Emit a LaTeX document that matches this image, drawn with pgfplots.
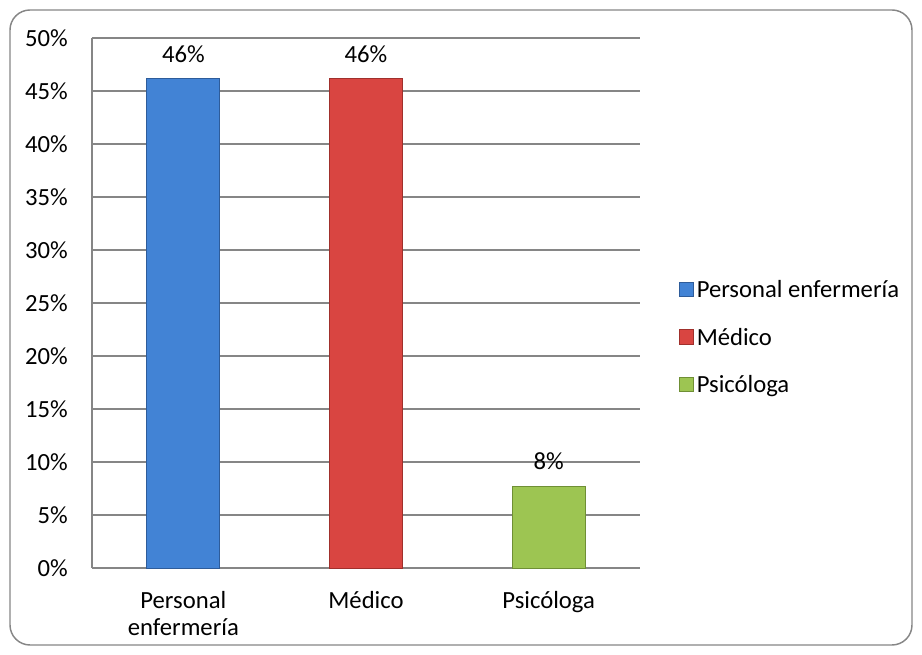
\documentclass[border=0pt]{standalone}
\usepackage{pgfplots}
\pgfplotsset{compat=1.18}
\usepackage{fontspec}
\setmainfont{Carlito}
\definecolor{gridgray}{HTML}{868686}
\definecolor{cblue}{HTML}{4283D5}
\definecolor{cblueD}{HTML}{2E5C9A}
\definecolor{cred}{HTML}{D94541}
\definecolor{credD}{HTML}{A0302C}
\definecolor{cgreen}{HTML}{9DC552}
\definecolor{cgreenD}{HTML}{6F8F35}
\newcommand{\cf}{\fontsize{18.5}{20}\selectfont}
\begin{document}
\cf
\begin{tikzpicture}
\useasboundingbox (-69pt,-65.25pt) rectangle (622.5pt,426pt);
\draw[gridgray, line width=1.1pt, rounded corners=15pt] (-61.5pt,-57.75pt) rectangle (615pt,418.5pt);
\begin{axis}[
  scale only axis,
  width=411pt, height=397.5pt,
  xmin=-0.5, xmax=2.5,
  ymin=0, ymax=50,
  ytick={0,5,...,50},
  yticklabel={\pgfmathprintnumber{\tick}\%},
  /pgf/number format/assume math mode=true,
  xtick={0,1,2},
  xticklabels={{Personal\\enfermería},{Médico},{Psicóloga}},
  xticklabel style={align=center, anchor=north, inner sep=0pt, yshift=-17.5pt, font=\cf},
  yticklabel style={anchor=east, inner sep=0pt, xshift=-18pt, font=\cf},
  major tick length=0pt,
  axis x line*=bottom,
  axis y line*=left,
  axis line style={gridgray, line width=0.9pt, -},
  ymajorgrids,
  grid style={gridgray, line width=0.9pt},
  ybar, bar width=0.4, bar shift=0pt,
  nodes near coords={\pgfmathprintnumber[fixed,precision=0]{\pgfplotspointmeta}\%},
  nodes near coords style={anchor=south, inner sep=0pt, yshift=12pt, font=\cf},
  legend style={at={(rel axis cs:1.07,0.548)}, anchor=north west, draw=none, fill=none,
    font=\cf, row sep=16pt, inner sep=0pt, nodes={inner xsep=2pt}},
  legend cell align=left,
  legend image code/.code={\draw[#1] (0pt,-4.5pt) rectangle (11pt,6.5pt);},
  clip=false,
]
\addplot[fill=cblue, draw=cblueD, line width=0.6pt] coordinates {(0,46.15)};
\addlegendentry{Personal enfermería}
\addplot[fill=cred, draw=credD, line width=0.6pt] coordinates {(1,46.15)};
\addlegendentry{Médico}
\addplot[fill=cgreen, draw=cgreenD, line width=0.6pt] coordinates {(2,7.69)};
\addlegendentry{Psicóloga}
\end{axis}
\end{tikzpicture}
\end{document}
